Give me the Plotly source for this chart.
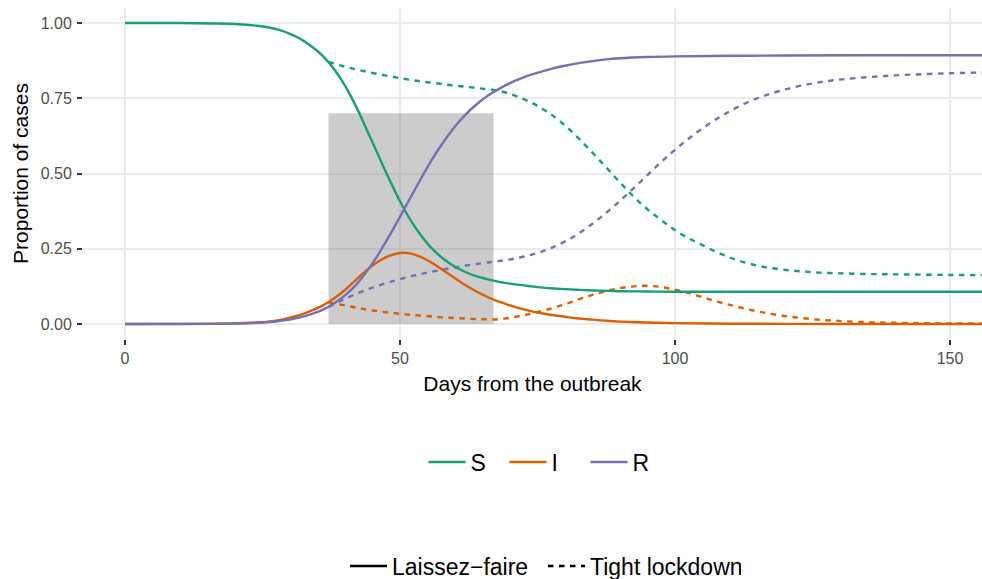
import plotly.graph_objects as go

# ---- data ----
# Laissez-faire (solid lines)
days_lf = [0, 10, 16, 20] + list(range(24, 92, 2)) + [95, 100, 110, 120, 140, 160]
S_lf = [1.0, 1.0, 0.9985, 0.9965,
        0.991, 0.986, 0.977, 0.964, 0.946, 0.921, 0.89, 0.847, 0.792, 0.723,
        0.644, 0.563, 0.483, 0.408, 0.343, 0.29, 0.247, 0.215, 0.19, 0.172,
        0.158, 0.148, 0.14, 0.134, 0.129, 0.125, 0.121, 0.118, 0.116, 0.114,
        0.112, 0.111, 0.11, 0.109,
        0.108, 0.107, 0.107, 0.107, 0.107, 0.107]
I_lf = [0.0, 0.0003, 0.001, 0.002,
        0.005, 0.008, 0.013, 0.021, 0.031, 0.045, 0.062, 0.085, 0.113, 0.147,
        0.18, 0.207, 0.226, 0.236, 0.234, 0.221, 0.201, 0.177, 0.152, 0.128,
        0.107, 0.089, 0.074, 0.062, 0.051, 0.042, 0.035, 0.029, 0.024, 0.019,
        0.016, 0.013, 0.01, 0.008,
        0.005, 0.003, 0.001, 0.0005, 0.0, 0.0]
R_lf = [0.0, 0.0, 0.0005, 0.0015,
        0.004, 0.006, 0.01, 0.015, 0.023, 0.034, 0.048, 0.068, 0.095, 0.13,
        0.176, 0.23, 0.291, 0.356, 0.423, 0.489, 0.552, 0.607, 0.656, 0.697,
        0.731, 0.759, 0.781, 0.80, 0.816, 0.829, 0.84, 0.85, 0.858, 0.865,
        0.871, 0.876, 0.88, 0.883,
        0.887, 0.889, 0.891, 0.892, 0.893, 0.893]

# Tight lockdown (dashed lines), starting when the lockdown begins
days_tl = list(range(37, 133, 2)) + [135, 140, 150, 160]
S_tl = [0.871, 0.86, 0.85, 0.842, 0.834, 0.827, 0.82, 0.814, 0.808, 0.803,
        0.799, 0.794, 0.79, 0.786, 0.782, 0.778, 0.77, 0.758, 0.743, 0.725,
        0.702, 0.675, 0.643, 0.607, 0.569, 0.53, 0.49, 0.451, 0.414, 0.381,
        0.352, 0.325, 0.3, 0.28, 0.262, 0.244, 0.228, 0.214, 0.203, 0.194,
        0.187, 0.182, 0.178, 0.175, 0.172, 0.17, 0.169, 0.168,
        0.166, 0.165, 0.163, 0.162]
I_tl = [0.072, 0.065, 0.058, 0.051, 0.045, 0.04, 0.036, 0.032, 0.029, 0.026,
        0.023, 0.021, 0.019, 0.017, 0.016, 0.015, 0.018, 0.024, 0.031, 0.04,
        0.049, 0.06, 0.072, 0.085, 0.097, 0.107, 0.116, 0.122, 0.126, 0.127,
        0.124, 0.118, 0.11, 0.1, 0.089, 0.078, 0.068, 0.059, 0.05, 0.042,
        0.035, 0.029, 0.024, 0.02, 0.016, 0.013, 0.011, 0.009,
        0.006, 0.004, 0.002, 0.001]
R_tl = [0.057, 0.075, 0.092, 0.107, 0.121, 0.133, 0.144, 0.154, 0.163, 0.171,
        0.178, 0.185, 0.191, 0.197, 0.202, 0.207, 0.212, 0.218, 0.226, 0.236,
        0.249, 0.265, 0.284, 0.307, 0.333, 0.362, 0.393, 0.426, 0.46, 0.495,
        0.53, 0.563, 0.594, 0.623, 0.65, 0.675, 0.697, 0.717, 0.735, 0.75,
        0.763, 0.774, 0.784, 0.792, 0.799, 0.805, 0.81, 0.814,
        0.82, 0.826, 0.833, 0.837]

compartments = ["S", "I", "R"]
policies = ["Laissez\u2212faire", "Tight lockdown"]
lockdown_start = 37
lockdown_end = 67
lockdown_top = 0.7
x_ticks = [0, 50, 100, 150]
y_ticks = [0.0, 0.25, 0.5, 0.75, 1.0]
y_ticktext = ["0.00", "0.25", "0.50", "0.75", "1.00"]

colors = {"S": "#1B9E77", "I": "#D95F02", "R": "#7570B3"}
FONT = "Liberation Sans, Arial, Helvetica, sans-serif"
LW = 2.4
DASH = "5.5px,5.5px"

lf = {"S": S_lf, "I": I_lf, "R": R_lf}
tl = {"S": S_tl, "I": I_tl, "R": R_tl}

fig = go.Figure()

for c in compartments:
    fig.add_trace(go.Scatter(
        x=days_tl, y=tl[c], mode="lines", name=c,
        line=dict(color=colors[c], width=LW, dash=DASH, shape="spline", smoothing=1.0),
        showlegend=False, hoverinfo="skip"))
for c in compartments:
    fig.add_trace(go.Scatter(
        x=days_lf, y=lf[c], mode="lines", name=c,
        line=dict(color=colors[c], width=LW, shape="spline", smoothing=1.0),
        showlegend=True, legend="legend", hoverinfo="skip"))

# linetype legend
fig.add_trace(go.Scatter(x=[None], y=[None], mode="lines", name=policies[0],
                         line=dict(color="black", width=LW),
                         showlegend=True, legend="legend2"))
fig.add_trace(go.Scatter(x=[None], y=[None], mode="lines", name=policies[1],
                         line=dict(color="black", width=LW, dash=DASH),
                         showlegend=True, legend="legend2"))

fig.add_shape(type="rect", xref="x", yref="y",
              x0=lockdown_start, x1=lockdown_end, y0=0, y1=lockdown_top,
              fillcolor="rgba(128,128,128,0.4)", line=dict(width=0), layer="between")

# the page window is 579 px tall; the figure is a little taller so the
# bottom legend never pushes the plot margins
W, H = 982, 600
ml, mr, mt = 83, 0, 8
plot_bottom = 339
mb = H - plot_bottom
pw, ph = W - ml - mr, plot_bottom - mt


def px_to_paper_x(px):
    return (px - ml) / pw


def px_to_paper_y(py):
    return (plot_bottom - py) / ph


fig.update_layout(
    width=W, height=H,
    margin=dict(l=ml, r=mr, t=mt, b=mb, pad=0),
    paper_bgcolor="white", plot_bgcolor="white",
    font=dict(family=FONT, color="black"),
    legend=dict(orientation="h", x=px_to_paper_x(545), xanchor="center",
                y=px_to_paper_y(462), yanchor="middle", itemwidth=37,
                entrywidth=29, entrywidthmode="pixels",
                font=dict(size=23, family=FONT, color="black"),
                bgcolor="rgba(0,0,0,0)"),
    legend2=dict(orientation="h", x=px_to_paper_x(543), xanchor="center",
                 y=px_to_paper_y(566), yanchor="middle", itemwidth=37,
                 entrywidth=146, entrywidthmode="pixels",
                 font=dict(size=23, family=FONT, color="black"),
                 bgcolor="rgba(0,0,0,0)"),
)

fig.update_xaxes(
    range=[-7.636, 155.82], tickvals=x_ticks,
    showgrid=True, gridcolor="#EBEBEB", gridwidth=2, zeroline=False, showline=False,
    ticks="outside", ticklen=5, tickwidth=2, tickcolor="#333333",
    tickfont=dict(size=16, color="#4D4D4D", family=FONT),
    title=dict(text="Days from the outbreak", font=dict(size=21, color="black", family=FONT),
               standoff=10),
    automargin=False,
)
fig.update_yaxes(
    range=[-0.0498, 1.0498], tickvals=y_ticks, ticktext=y_ticktext,
    showgrid=True, gridcolor="#EBEBEB", gridwidth=2, zeroline=False, showline=False,
    ticks="outside", ticklen=5, tickwidth=2, tickcolor="#333333",
    tickfont=dict(size=16, color="#4D4D4D", family=FONT), ticklabelstandoff=2,
    title=dict(text="Proportion of cases", font=dict(size=21, color="black", family=FONT),
               standoff=6),
    automargin=False,
)

fig.write_html("out.html", config={"displayModeBar": False},
               post_script="document.body.style.margin='0px';document.body.style.overflow='hidden';")
